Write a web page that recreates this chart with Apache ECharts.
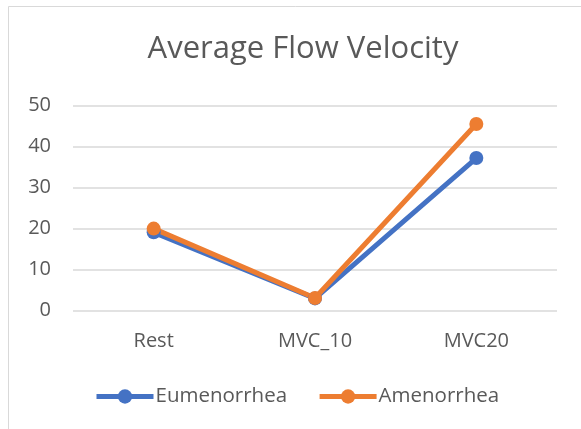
<!DOCTYPE html>
<html>
<head>
<meta charset="utf-8">
<script src="https://cdn.jsdelivr.net/npm/echarts@6/dist/echarts.min.js"></script>
<style>html,body{margin:0;padding:0;background:#fff;}#c{width:581px;height:429px;}</style>
</head>
<body>
<div id="c"></div>
<script>
const categories = ['Rest', 'MVC_10', 'MVC20'];
const eumenorrhea = [19.1, 3.0, 37.2];
const amenorrhea = [20.0, 3.1, 45.5];
const yTicks = [0, 10, 20, 30, 40, 50];

const chart = echarts.init(document.getElementById('c'));
const font = '"Open Sans", "Liberation Sans", Arial, sans-serif';
chart.setOption({
  animation: false,
  backgroundColor: '#fff',
  graphic: [{
    type: 'rect', shape: { x: 8.5, y: 6.5, width: 600, height: 500 },
    style: { fill: 'none', stroke: '#d9d9d9', lineWidth: 1 }, silent: true
  }],
  title: {
    text: 'Average Flow Velocity', left: 298, top: 29, textAlign: 'center',
    textStyle: { fontFamily: font, fontSize: 31, fontWeight: 'normal', color: '#595959' }
  },
  grid: { left: 73, right: 24, top: 105.5, bottom: 118.3 },
  xAxis: {
    type: 'category', data: categories, boundaryGap: true,
    axisLine: { show: false }, axisTick: { show: false },
    axisLabel: { fontFamily: font, fontSize: 20, color: '#595959', margin: 21 }
  },
  yAxis: {
    type: 'value', min: yTicks[0], max: yTicks[yTicks.length - 1], interval: 10,
    axisLine: { show: false }, axisTick: { show: false },
    axisLabel: { fontFamily: font, fontSize: 20, color: '#595959', margin: 22 },
    splitLine: { lineStyle: { color: '#d9d9d9', width: 1.5 } }
  },
  legend: {
    top: 386, left: 94, padding: 0, itemWidth: 57, itemHeight: 18, itemGap: 30,
    lineStyle: { width: 5 },
    textStyle: { fontFamily: font, fontSize: 20.5, color: '#595959', padding: [0, 0, 0, -3] },
    data: ['Eumenorrhea', 'Amenorrhea']
  },
  series: [
    { name: 'Eumenorrhea', type: 'line', data: eumenorrhea, color: '#4472C4',
      symbol: 'circle', symbolSize: 14, lineStyle: { width: 5 } },
    { name: 'Amenorrhea', type: 'line', data: amenorrhea, color: '#ED7D31',
      symbol: 'circle', symbolSize: 14, lineStyle: { width: 5 } }
  ]
});
</script>
</body>
</html>
